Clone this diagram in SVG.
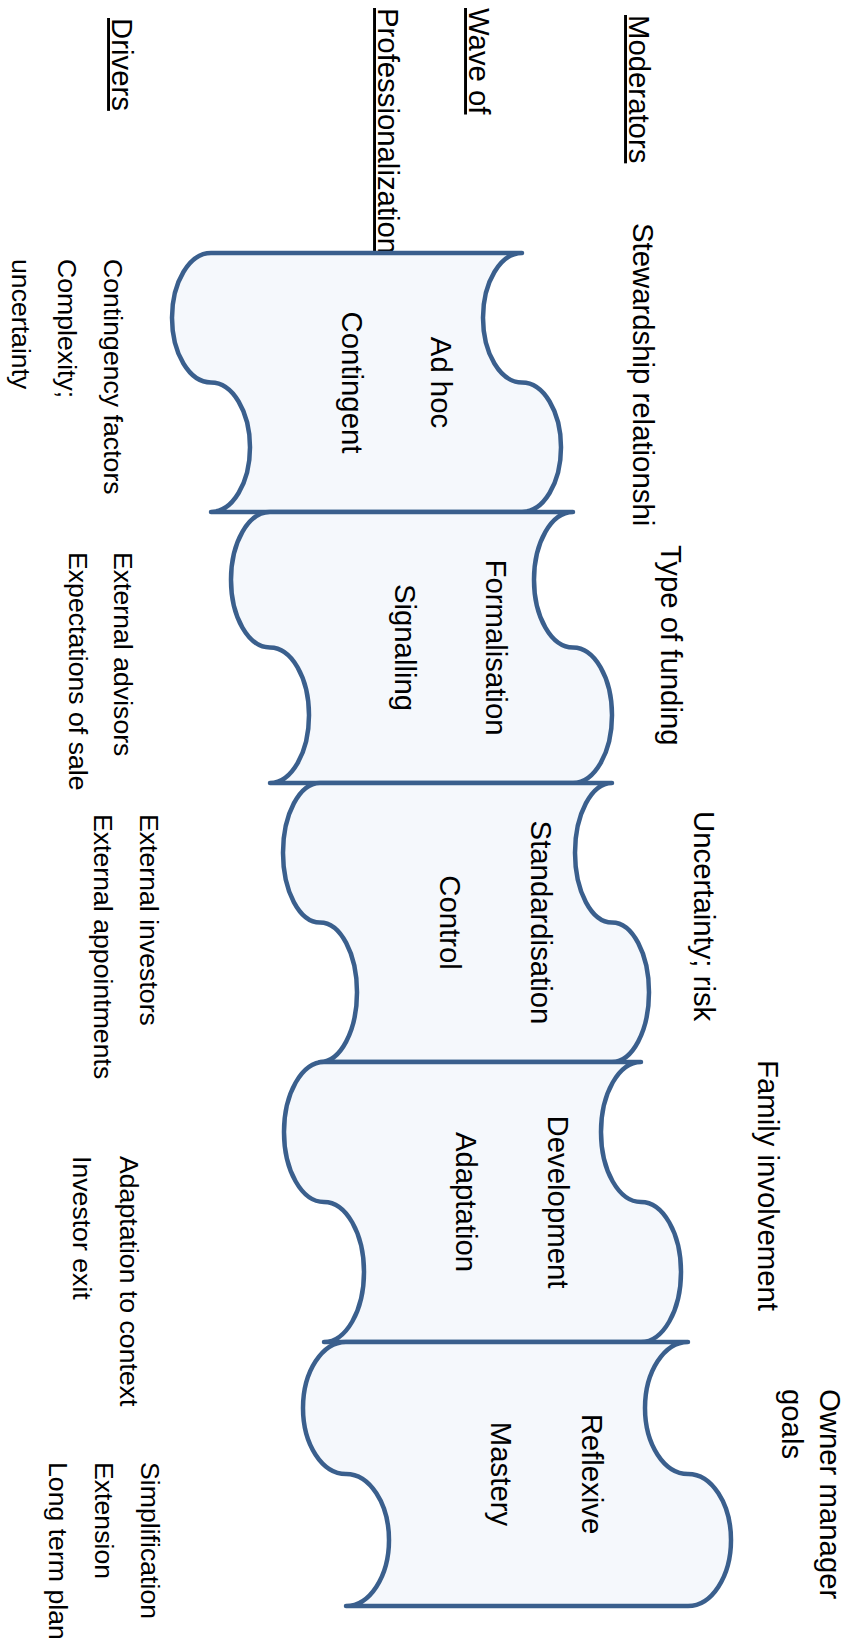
<svg xmlns="http://www.w3.org/2000/svg" width="846" height="1642" viewBox="0 0 846 1642">
<style>
.tape{fill:#F5F8FC;stroke:#3A5F8D;stroke-width:4.5;stroke-linecap:round;stroke-linejoin:round}
text{font-family:"Liberation Sans",Arial,sans-serif;fill:#000}
.big{font-size:29.33px}
.small{font-size:26.67px}
.mid{text-anchor:middle}
.hdr{text-decoration:underline}
</style>
<rect width="846" height="1642" fill="#fff"/>
<g id="headers">
<text class="big hdr" transform="translate(629,15) rotate(90)">Moderators</text>
<text class="big hdr" transform="translate(469,8) rotate(90)">Wave of</text>
<text class="big hdr" transform="translate(378,8) rotate(90)">Professionalization</text>
<text class="big hdr" transform="translate(112,18) rotate(90)">Drivers</text>
</g>
<g id="moderators">
<text class="big" transform="translate(633,223) rotate(90)">Stewardship relationshi</text>
<text class="big" transform="translate(661,545) rotate(90)">Type of funding</text>
<text class="big" transform="translate(694,811) rotate(90)">Uncertainty; risk</text>
<text class="big" transform="translate(758,1060) rotate(90)">Family involvement</text>
<text class="big" transform="translate(820,1389) rotate(90)">Owner manager</text>
<text class="big" transform="translate(782,1389) rotate(90)">goals</text>
</g>
<g id="drivers">
<text class="small" transform="translate(104,259) rotate(90)">Contingency factors</text>
<text class="small" transform="translate(58,259) rotate(90)">Complexity;</text>
<text class="small" transform="translate(12,259) rotate(90)">uncertainty</text>
<text class="small" transform="translate(114,552) rotate(90)">External advisors</text>
<text class="small" transform="translate(69,552) rotate(90)">Expectations of sale</text>
<text class="small" transform="translate(140,814) rotate(90)">External investors</text>
<text class="small" transform="translate(94,814) rotate(90)">External appointments</text>
<text class="small" transform="translate(120,1156) rotate(90)">Adaptation to context</text>
<text class="small" transform="translate(73,1156) rotate(90)">Investor exit</text>
<text class="small" transform="translate(141,1462) rotate(90)">Simplification</text>
<text class="small" transform="translate(95,1462) rotate(90)">Extension</text>
<text class="small" transform="translate(49,1462) rotate(90)">Long term plan</text>
</g>
<g id="connectors"></g>
<g id="wave1">
<path class="tape" d="M522,253 A39,64.75 0 0 0 522,382.5 A39,64.75 0 0 1 522,512 L211,512 A39,64.75 0 0 0 211,382.5 A39,64.75 0 0 1 211,253 Z"/>
<text class="big mid" transform="translate(431,382.5) rotate(90)">Ad hoc</text>
<text class="big mid" transform="translate(342,382.5) rotate(90)">Contingent</text>
</g>
<g id="wave2">
<path class="tape" d="M573,512 A39,67.75 0 0 0 573,647.5 A39,67.75 0 0 1 573,783 L270,783 A39,67.75 0 0 0 270,647.5 A39,67.75 0 0 1 270,512 Z"/>
<text class="big mid" transform="translate(486,647.5) rotate(90)">Formalisation</text>
<text class="big mid" transform="translate(395,647.5) rotate(90)">Signalling</text>
</g>
<g id="wave3">
<path class="tape" d="M612,783 A37,69.75 0 0 0 612,922.5 A37,69.75 0 0 1 612,1062 L320,1062 A37,69.75 0 0 0 320,922.5 A37,69.75 0 0 1 320,783 Z"/>
<text class="big mid" transform="translate(531,922.5) rotate(90)">Standardisation</text>
<text class="big mid" transform="translate(440,922.5) rotate(90)">Control</text>
</g>
<g id="wave4">
<path class="tape" d="M641,1062 A40,70 0 0 0 641,1202 A40,70 0 0 1 641,1342 L324,1342 A40,70 0 0 0 324,1202 A40,70 0 0 1 324,1062 Z"/>
<text class="big mid" transform="translate(548,1202) rotate(90)">Development</text>
<text class="big mid" transform="translate(456,1202) rotate(90)">Adaptation</text>
</g>
<g id="wave5">
<path class="tape" d="M688,1342 A43,66 0 0 0 688,1474 A43,66 0 0 1 688,1606 L346,1606 A43,66 0 0 0 346,1474 A43,66 0 0 1 346,1342 Z"/>
<text class="big mid" transform="translate(582,1474) rotate(90)">Reflexive</text>
<text class="big mid" transform="translate(491,1474) rotate(90)">Mastery</text>
</g>
</svg>
